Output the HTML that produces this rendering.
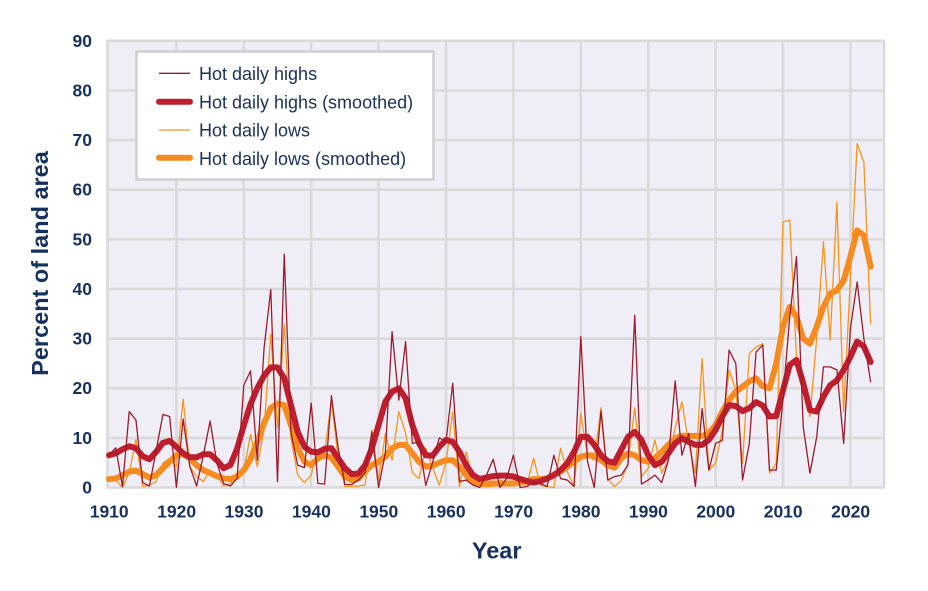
<!DOCTYPE html>
<html>
<head>
<meta charset="utf-8">
<style>
  html,body{margin:0;padding:0;background:#ffffff;}
  svg{display:block;}
  text{font-family:"Liberation Sans", Arial, sans-serif;fill:#17315f;}
  .tick{font-size:17.5px;font-weight:bold;}
  .title{font-size:23.5px;font-weight:bold;}
  .leg{font-size:18px;}
</style>
</head>
<body>
<svg width="928" height="591" viewBox="0 0 928 591" xmlns="http://www.w3.org/2000/svg">
  <!-- plot background -->
  <rect x="107.5" y="40.8" width="776.5" height="446.7" fill="#efedf6"/>
  <!-- gridlines -->
  <g stroke="#dadada" stroke-width="2.6">
    <line x1="107.5" x2="884" y1="437.9" y2="437.9"/>
    <line x1="107.5" x2="884" y1="388.2" y2="388.2"/>
    <line x1="107.5" x2="884" y1="338.6" y2="338.6"/>
    <line x1="107.5" x2="884" y1="289.0" y2="289.0"/>
    <line x1="107.5" x2="884" y1="239.3" y2="239.3"/>
    <line x1="107.5" x2="884" y1="189.7" y2="189.7"/>
    <line x1="107.5" x2="884" y1="140.1" y2="140.1"/>
    <line x1="107.5" x2="884" y1="90.5" y2="90.5"/>
    <line x1="176.4" x2="176.4" y1="40.8" y2="487.5"/>
    <line x1="243.8" x2="243.8" y1="40.8" y2="487.5"/>
    <line x1="311.2" x2="311.2" y1="40.8" y2="487.5"/>
    <line x1="378.6" x2="378.6" y1="40.8" y2="487.5"/>
    <line x1="446.0" x2="446.0" y1="40.8" y2="487.5"/>
    <line x1="513.4" x2="513.4" y1="40.8" y2="487.5"/>
    <line x1="580.8" x2="580.8" y1="40.8" y2="487.5"/>
    <line x1="648.2" x2="648.2" y1="40.8" y2="487.5"/>
    <line x1="715.6" x2="715.6" y1="40.8" y2="487.5"/>
    <line x1="783.0" x2="783.0" y1="40.8" y2="487.5"/>
    <line x1="850.4" x2="850.4" y1="40.8" y2="487.5"/>
    <rect x="107.5" y="40.8" width="776.5" height="446.7" fill="none"/>
  </g>

  <!-- data series: x = year index from 1910, y = percent -->
  <g transform="translate(109,487.5) scale(6.74,-4.963)" fill="none" stroke-linejoin="round" stroke-linecap="round">
    <!-- Hot daily lows (smoothed) -->
    <polyline vector-effect="non-scaling-stroke" stroke="#f58a1f" stroke-width="6" points="0,1.7 1,1.8 2,2.5 3,3.2 4,3.4 5,2.7 6,2 7,2.5 8,3.9 9,5.2 10,6.5 11,6.7 12,5.9 13,4.5 14,3.5 15,2.9 16,2.3 17,1.8 18,1.7 19,2.2 20,3.5 21,5.7 22,9.2 23,12.9 24,16 25,16.9 26,16.6 27,12.6 28,7.9 29,5.2 30,4.5 31,5.9 32,6.5 33,6 34,4.2 35,2.2 36,1.5 37,1.8 38,3.3 39,4.5 40,5.2 41,6.2 42,7.9 43,8.6 44,8.6 45,6.9 46,5.2 47,4.2 48,4.4 49,5 50,5.5 51,5.5 52,4.2 53,2.5 54,1.2 55,0.8 56,0.8 57,0.8 58,0.8 59,0.8 60,0.8 61,1 62,1.3 63,1.7 64,1.7 65,1.8 66,2.5 67,3.2 68,4.2 69,5.2 70,6.2 71,6.5 72,6.4 73,5.5 74,4.5 75,4 76,5.9 77,6.9 78,6.5 79,5.5 80,5.2 81,5.9 82,7.2 83,8.6 84,9.9 85,10.4 86,10.4 87,10.4 88,10.4 89,10.9 90,12.6 91,15.3 92,17.6 93,19.3 94,20.3 95,21.4 96,22 97,20.4 98,20 99,25 100,32.4 101,36.4 102,34.4 103,30 104,29 105,32.4 106,36.4 107,39.1 108,39.7 109,41.7 110,46.5 111,51.8 112,50.8 113,44.5"/>
    <!-- Hot daily lows -->
    <polyline vector-effect="non-scaling-stroke" stroke="#f7941d" stroke-width="1.3" points="0,1.5 1,1.5 2,0 3,3 4,9.7 5,0.2 6,0.5 7,1.2 8,4.9 9,5.9 10,4.2 11,17.8 12,4.2 13,2.2 14,1.2 15,3.5 16,2.5 17,0.3 18,0.8 19,2.2 20,3.5 21,10.7 22,4.2 23,11.6 24,30.9 25,12 26,32.8 27,9.9 28,2.5 29,1 30,2.5 31,7.6 32,7.2 33,17.5 34,6 35,0.2 36,0.2 37,0.3 38,0.5 39,11.6 40,1.5 41,10.9 42,5.5 43,15.3 44,11 45,3 46,1.8 47,7.9 48,4 49,0.5 50,5 51,15.3 52,0.2 53,7.2 54,1.8 55,0.2 56,0.2 57,0.2 58,1.5 59,1 60,0.6 61,0.8 62,0.5 63,5.9 64,0.5 65,0.2 66,0 67,7.9 68,3.2 69,0.2 70,14.9 71,6.5 72,5.5 73,16.1 74,1.8 75,0.2 76,1.4 77,4.9 78,16.1 79,2.2 80,3.9 81,9.6 82,2.9 83,5.5 84,12 85,17.3 86,8.9 87,2.9 88,26 89,3.5 90,4.9 91,11.6 92,23.7 93,19.6 94,4.9 95,27 96,28.3 97,29 98,2.9 99,4.9 100,53.5 101,53.9 102,26.3 103,20 104,14.3 105,30 106,49.5 107,29.7 108,57.5 109,15.3 110,42 111,69.3 112,65.6 113,33"/>
    <!-- Hot daily highs (smoothed) -->
    <polyline vector-effect="non-scaling-stroke" stroke="#be1e2d" stroke-width="6" points="0,6.5 1,6.9 2,7.7 3,8.3 4,7.9 5,6.3 6,5.7 7,7.2 8,9 9,9.4 10,8.2 11,6.9 12,6.1 13,6.1 14,6.7 15,6.7 16,5.5 17,3.9 18,4.5 19,7.8 20,12.5 21,16.8 22,20 23,22.5 24,24.2 25,24.2 26,22 27,16.6 28,11.2 29,8.2 30,7.2 31,7.1 32,7.8 33,7.9 34,5.9 35,3.9 36,2.7 37,2.8 38,4.5 39,7.9 40,12.6 41,17.3 42,19.3 43,20 44,18 45,12.6 46,8.9 47,6.5 48,6.4 49,8.2 50,9.6 51,9.2 52,7.2 53,4.5 54,2.5 55,1.7 56,2 57,2.3 58,2.4 59,2.4 60,2.2 61,1.7 62,1.3 63,1 64,1.3 65,1.8 66,2.5 67,3.5 68,4.9 69,7.2 70,10.2 71,10.2 72,8.6 73,6.5 74,5.3 75,5 76,7.6 77,10.2 78,11.2 79,9.6 80,6.5 81,4.5 82,5.2 83,6.9 84,8.9 85,9.9 86,9.2 87,8.6 88,8.6 89,9.6 90,11.6 91,14.3 92,16.6 93,16.4 94,15.4 95,16 96,17.2 97,16.5 98,14.3 99,14.4 100,19.6 101,24.7 102,25.7 103,21 104,15.6 105,15.3 106,18.3 107,20.6 108,21.6 109,23.7 110,26.3 111,29.4 112,28.4 113,25.3"/>
    <!-- Hot daily highs -->
    <polyline vector-effect="non-scaling-stroke" stroke="#9e1b2c" stroke-width="1.3" points="0,6.5 1,8 2,0.2 3,15.3 4,13.6 5,1 6,0.3 7,7.5 8,14.7 9,14.3 10,0 11,13.8 12,4.2 13,0.3 14,6.5 15,13.4 16,5 17,0.8 18,0.3 19,1.8 20,20.6 21,23.5 22,5.5 23,28 24,39.9 25,1.2 26,47 27,11 28,4.5 29,4 30,17 31,0.8 32,0.7 33,18.5 34,8 35,0.6 36,0.6 37,1.5 38,3 39,11.2 40,0 41,7 42,31.4 43,17.6 44,29.4 45,8.9 46,9.2 47,0.4 48,5 49,10 50,9.2 51,21 52,1.2 53,1.5 54,0.5 55,0 56,2.5 57,5.7 58,0 59,1.8 60,6.5 61,0 62,0.2 63,1 64,0.8 65,0.2 66,6.5 67,1.8 68,1.5 69,0.2 70,30.4 71,5.2 72,0 73,15.4 74,1.5 75,2.2 76,2.5 77,4.5 78,34.7 79,0.7 80,1.5 81,2.5 82,1 83,5.5 84,21.5 85,6.5 86,10.9 87,0.2 88,15.9 89,3.5 90,8.9 91,9.5 92,27.7 93,25 94,1.5 95,8.9 96,27.3 97,28.7 98,3.5 99,3.5 100,18 101,34.4 102,46.5 103,12.2 104,2.9 105,10.2 106,24.3 107,24.3 108,23.7 109,8.9 110,32 111,41.4 112,30 113,21.3"/>
  </g>

  <!-- Y tick labels -->
  <g text-anchor="end">
    <text class="tick" x="92" y="493.5">0</text>
    <text class="tick" x="92" y="443.9">10</text>
    <text class="tick" x="92" y="394.2">20</text>
    <text class="tick" x="92" y="344.6">30</text>
    <text class="tick" x="92" y="295.0">40</text>
    <text class="tick" x="92" y="245.3">50</text>
    <text class="tick" x="92" y="195.7">60</text>
    <text class="tick" x="92" y="146.1">70</text>
    <text class="tick" x="92" y="96.5">80</text>
    <text class="tick" x="92" y="46.8">90</text>
  </g>
  <!-- X tick labels -->
  <g text-anchor="middle">
    <text class="tick" x="109.2" y="517.5">1910</text>
    <text class="tick" x="176.6" y="517.5">1920</text>
    <text class="tick" x="244.0" y="517.5">1930</text>
    <text class="tick" x="311.4" y="517.5">1940</text>
    <text class="tick" x="378.8" y="517.5">1950</text>
    <text class="tick" x="446.2" y="517.5">1960</text>
    <text class="tick" x="513.6" y="517.5">1970</text>
    <text class="tick" x="581.0" y="517.5">1980</text>
    <text class="tick" x="648.4" y="517.5">1990</text>
    <text class="tick" x="715.8" y="517.5">2000</text>
    <text class="tick" x="783.2" y="517.5">2010</text>
    <text class="tick" x="850.6" y="517.5">2020</text>
  </g>

  <!-- Axis titles -->
  <text class="title" x="496.7" y="558.5" text-anchor="middle">Year</text>
  <text class="title" text-anchor="middle" transform="translate(48,263.5) rotate(-90)">Percent of land area</text>

  <!-- Legend -->
  <rect x="136.5" y="51.5" width="297" height="128" fill="#ffffff" stroke="#d0d0d0" stroke-width="2.6"/>
  <line x1="159" x2="190" y1="73.3" y2="73.3" stroke="#9e1b2c" stroke-width="1.3"/>
  <line x1="159" x2="190" y1="101.7" y2="101.7" stroke="#be1e2d" stroke-width="6" stroke-linecap="round"/>
  <line x1="159" x2="190" y1="130" y2="130" stroke="#f7941d" stroke-width="1.3"/>
  <line x1="159" x2="190" y1="157.7" y2="157.7" stroke="#f58a1f" stroke-width="6" stroke-linecap="round"/>
  <text class="leg" x="199" y="80">Hot daily highs</text>
  <text class="leg" x="199" y="108.3">Hot daily highs (smoothed)</text>
  <text class="leg" x="199" y="136.7">Hot daily lows</text>
  <text class="leg" x="199" y="165">Hot daily lows (smoothed)</text>
</svg>
</body>
</html>
